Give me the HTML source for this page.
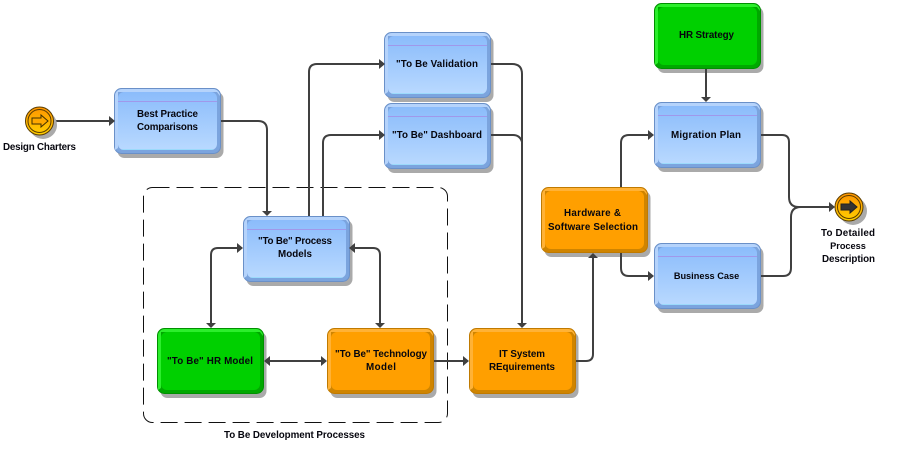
<!DOCTYPE html>
<html><head><meta charset="utf-8">
<style>html,body{margin:0;padding:0;background:#fff}svg{display:block}
text{font-family:"Liberation Sans",sans-serif;font-size:9.8px;font-weight:bold;text-anchor:middle;fill:#06060e}</style></head>
<body>
<svg width="901" height="450" viewBox="0 0 901 450" xmlns="http://www.w3.org/2000/svg">
<defs>
<linearGradient id="bg" x1="0" y1="0" x2="0" y2="1"><stop offset="0" stop-color="#8bbcfb"/><stop offset="1" stop-color="#b9d9ff"/></linearGradient>
<linearGradient id="og" x1="0" y1="0" x2="0" y2="1"><stop offset="0" stop-color="#ff9400"/><stop offset="1" stop-color="#ffd000"/></linearGradient>
<g id="blue">
<rect x="3.500" y="4" width="106" height="66" rx="7" fill="#aaa"/>
<rect x=".5" y=".5" width="106" height="65" rx="7" fill="#7ba4de" stroke="#6a90c8"/>
<path d="M1,8a7,7 0 0 1 7,-7H99a7,7 0 0 1 7,7L103,4H4V60L1,62Z" fill="#b5d3fb"/>
<rect x="4" y="4" width="99" height="58" rx="6" fill="url(#bg)"/>
<path d="M4,13.500H103" stroke="#a098ea"/><path d="M8,61.500H99" stroke="#7fdcf8" opacity=".5"/>
</g>
<g id="orange">
<rect x="3.500" y="4" width="106" height="66" rx="7" fill="#aaa"/>
<rect x=".5" y=".5" width="106" height="65" rx="7" fill="#cf8400" stroke="#c07a00"/>
<path d="M1,8a7,7 0 0 1 7,-7H99a7,7 0 0 1 7,7L103,4H4V60L1,62Z" fill="#ffb236"/>
<rect x="4" y="4" width="99" height="58" rx="6" fill="#ff9f00"/>
</g>
<g id="green">
<rect x="3.500" y="4" width="106" height="66" rx="7" fill="#aaa"/>
<rect x=".5" y=".5" width="106" height="65" rx="7" fill="#00a800" stroke="#009000"/>
<path d="M1,8a7,7 0 0 1 7,-7H99a7,7 0 0 1 7,7L103,4H4V60L1,62Z" fill="#2cee2c"/>
<rect x="4" y="4" width="99" height="58" rx="6" fill="#00d000"/>
</g>
</defs>

<rect x="143.500" y="187.500" width="304" height="235" rx="9" fill="none" stroke="#111" stroke-width="1" stroke-dasharray="17 7"/>

<use href="#blue" x="114" y="88"/>
<use href="#blue" x="243" y="216"/>
<use href="#green" x="157" y="328"/>
<use href="#orange" x="327" y="328"/>
<use href="#blue" x="384" y="32"/>
<use href="#blue" x="384" y="103"/>
<use href="#orange" x="469" y="328"/>
<use href="#orange" x="541" y="187"/>
<use href="#green" x="654" y="3"/>
<use href="#blue" x="654" y="102"/>
<use href="#blue" x="654" y="243"/>

<g fill="none" stroke="#404040" stroke-width="2">
<path d="M54,121H112"/>
<path d="M221,121H258Q267,121 267,130V212"/>
<path d="M309,216V72Q309,64 317,64H381"/>
<path d="M323,216V143Q323,135 331,135H381"/>
<path d="M240,248H218Q211,248 211,255V325"/>
<path d="M352,248H373Q380,248 380,255V325"/>
<path d="M267,361H324"/>
<path d="M434,361H466"/>
<path d="M491,64H512Q522,64 522,74V325"/>
<path d="M491,135H513Q520,135 522,142"/>
<path d="M576,361H586Q593,361 593,354V256"/>
<path d="M621,187V143Q621,135 629,135H651"/>
<path d="M621,253V268Q621,276 629,276H651"/>
<path d="M706,69V99"/>
<path d="M761,135H782Q789,135 789,142V197Q789,207 799,207H832"/>
<path d="M761,276H783Q791,276 791,268V217Q791,207 801,207"/>
</g>
<g fill="#404040">
<path d="M115,121l-6,-5v10z"/>
<path d="M267,216l-5,-5h10z"/>
<path d="M385,64l-6,-5v10z"/>
<path d="M385,135l-6,-5v10z"/>
<path d="M243,248l-6,-5v10z"/>
<path d="M349,248l6,-5v10z"/>
<path d="M211,328l-5,-5h10z"/>
<path d="M380,328l-5,-5h10z"/>
<path d="M264,361l6,-5v10z"/>
<path d="M327,361l-6,-5v10z"/>
<path d="M469,361l-6,-5v10z"/>
<path d="M522,328l-5,-5h10z"/>
<path d="M593,253l-5,5h10z"/>
<path d="M654,135l-6,-5v10z"/>
<path d="M654,276l-6,-5v10z"/>
<path d="M706,102l-5,-5h10z"/>
<path d="M835,207l-6,-5v10z"/>
</g>

<circle cx="43" cy="125" r="14" fill="#aaa"/>
<circle cx="39.500" cy="121" r="14" fill="url(#og)" stroke="#5a3c00" stroke-width="1"/>
<circle cx="39.500" cy="121" r="11.500" fill="none" stroke="#5a3c00" stroke-width="1"/>
<path d="M32,118h9v-3l7,6l-7,6v-3h-9z" fill="#ffa800" stroke="#403000"/>
<circle cx="853" cy="211" r="14" fill="#aaa"/>
<circle cx="849" cy="207" r="14" fill="url(#og)" stroke="#5a3c00" stroke-width="1"/>
<circle cx="849" cy="207" r="11.500" fill="none" stroke="#5a3c00" stroke-width="1"/>
<path d="M841,204h9v-3l7,6l-7,6v-3h-9z" fill="#333" stroke="#222"/>

<text x="39.500" y="150" textLength="73">Design Charters</text>
<text x="167.500" y="117" textLength="61">Best Practice</text>
<text x="167.500" y="130" textLength="61">Comparisons</text>
<text x="295" y="244" textLength="74">"To Be" Process</text>
<text x="295" y="257" textLength="34">Models</text>
<text x="210" y="364" textLength="86">"To Be" HR Model</text>
<text x="381" y="357" textLength="92">"To Be" Technology</text>
<text x="381" y="370" textLength="30">Model</text>
<text x="437" y="67" textLength="82">"To Be Validation</text>
<text x="437" y="138" textLength="90">"To Be" Dashboard</text>
<text x="522" y="357" textLength="46">IT System</text>
<text x="522" y="370" textLength="66">REquirements</text>
<text x="592.500" y="216" textLength="57">Hardware &amp;</text>
<text x="593" y="230" textLength="90">Software Selection</text>
<text x="706.500" y="38" textLength="55">HR Strategy</text>
<text x="706" y="138" textLength="70">Migration Plan</text>
<text x="706.500" y="279" style="font-size:9.2px">Business Case</text>
<text x="848" y="236" textLength="54">To Detailed</text>
<text x="848" y="249" style="font-size:9.2px">Process</text>
<text x="848.500" y="262" textLength="53">Description</text>
<text x="294.500" y="438" textLength="141">To Be Development Processes</text>
</svg>
</body></html>
